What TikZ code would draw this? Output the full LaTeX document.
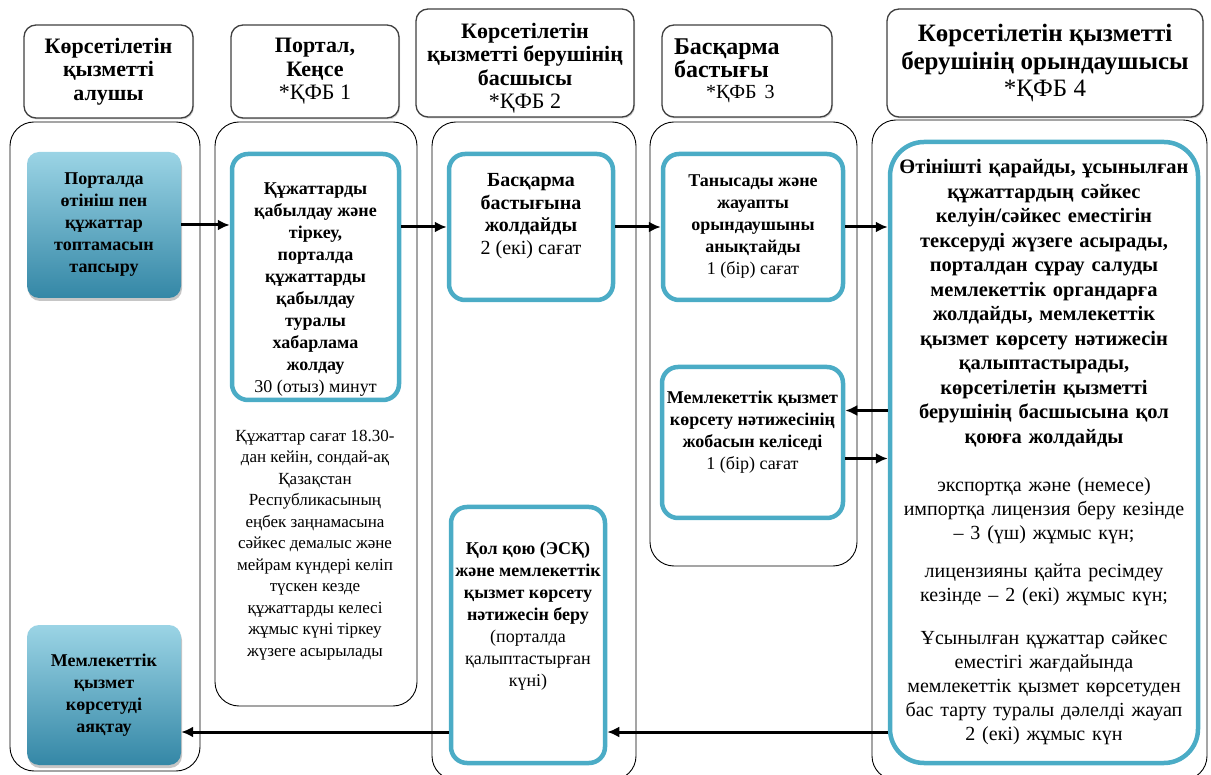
\documentclass[tikz,border=0pt]{standalone}
\usepackage{fontspec}
\setmainfont{Liberation Serif}
\usepackage{tikz}
\usetikzlibrary{arrows.meta,shadows}

\definecolor{stepblue}{HTML}{4BACC6}
\definecolor{termtop}{HTML}{9BD4E5}
\definecolor{termbot}{HTML}{3487A6}
\newcommand\txt{\fontsize{18}{22}\selectfont}
\newcommand\headtxt{\fontsize{22}{23.5}\selectfont}
\newcommand\smalltxt{\fontsize{17}{21.5}\selectfont}
\newcommand\widetxt{\fontsize{20.5}{24.5}\selectfont}

\begin{document}
\begin{tikzpicture}[x=1pt,y=-1pt,
    lanebox/.style={draw=black, line width=0.9pt, rounded corners=24pt},
    headbox/.style={draw=black!75, line width=1.3pt, rounded corners=12pt, fill=white,
      align=center, inner sep=0pt, font=\headtxt,
      drop shadow={shadow xshift=1pt, shadow yshift=-1.5pt, opacity=0.35}},
    stepbox/.style={draw=stepblue, line width=4.5pt, rounded corners=16pt, fill=white,
      align=center, inner sep=0pt, font=\txt},
    termbox/.style={rounded corners=12pt, top color=termtop, bottom color=termbot,
      align=center, inner sep=0pt, font=\txt\bfseries,
      drop shadow={shadow xshift=1pt, shadow yshift=-3pt, opacity=0.45}},
    arr/.style={line width=3pt, -{Latex[length=12pt,width=11pt]}}
  ]
  \useasboundingbox (0,0) rectangle (1211,775);

  % swimlanes
  \draw[lanebox] (10,122) rectangle (200,771);
  \draw[lanebox] (215,122) rectangle (417,706);
  \draw[lanebox] (432,122) rectangle (636,780);
  \draw[lanebox] (650,122) rectangle (857,566);
  \draw[lanebox] (872,120) rectangle (1207,780);

  % headers
  \node[headbox, minimum width=169, minimum height=93] (h1) at (108.5,71.5)
    {\textbf{Көрсетілетін}\\\textbf{қызметті}\\\textbf{алушы}};
  \node[headbox, minimum width=168, minimum height=93] (h2) at (315,71.5)
    {\textbf{Портал,}\\\textbf{Кеңсе}\\*ҚФБ 1};
  \node[headbox, minimum width=218, minimum height=108] (h3) at (525,63)
    {\rule{0pt}{26pt}\textbf{Көрсетілетін}\\\textbf{қызметті берушінің}\\\textbf{басшысы}\\*ҚФБ 2};
  \node[headbox, minimum width=170, minimum height=92, text width=146, align=left, font=\fontsize{24}{21}\selectfont] (h4) at (747,71)
    {\textbf{Басқарма}\\\textbf{бастығы}\\\hspace*{32pt}{\fontsize{20}{21}\selectfont *ҚФБ 3}};
  \node[headbox, minimum width=316, minimum height=108, font=\fontsize{25}{27.5}\selectfont] (h5) at (1045,63)
    {\textbf{Көрсетілетін қызметті}\\\textbf{берушінің орындаушысы}\\*ҚФБ 4};

  % steps
  \node[termbox, minimum width=154, minimum height=146] (start) at (104,225)
    {Порталда\\өтініш пен\\құжаттар\\топтамасын\\тапсыру};
  \node[stepbox, minimum width=167, minimum height=246] (p1) at (315.5,277)
    {\rule{0pt}{36pt}\textbf{Құжаттарды}\\\textbf{қабылдау және}\\\textbf{тіркеу,}\\\textbf{порталда}\\\textbf{құжаттарды}\\\textbf{қабылдау}\\\textbf{туралы}\\\textbf{хабарлама}\\\textbf{жолдау}\\30 (отыз) минут};
  \node[align=center, font=\smalltxt] (note) at (315,545)
    {Құжаттар сағат 18.30-\\дан кейін, сондай-ақ\\Қазақстан\\Республикасының\\еңбек заңнамасына\\сәйкес демалыс және\\мейрам күндері келіп\\түскен кезде\\құжаттарды келесі\\жұмыс күні тіркеу\\жүзеге асырылады};
  \node[stepbox, minimum width=164, minimum height=146, font=\fontsize{20}{22.5}\selectfont] (b1) at (531,227)
    {\textbf{Басқарма}\\\textbf{бастығына}\\\textbf{жолдайды}\\2 (екі) сағат\\[4pt]\mbox{}};
  \node[stepbox, minimum width=180, minimum height=146] (c1) at (753,227)
    {\textbf{Танысады және}\\\textbf{жауапты}\\\textbf{орындаушыны}\\\textbf{анықтайды}\\1 (бір) сағат};
  \node[stepbox, minimum width=181, minimum height=151] (c2) at (752.5,442.5)
    {\textbf{Мемлекеттік қызмет}\\\textbf{көрсету нәтижесінің}\\\textbf{жобасын келіседі}\\1 (бір) сағат\\[3pt]\mbox{}};
  \node[stepbox, minimum width=308, minimum height=621, rounded corners=34pt, text width=304, font=\widetxt] (d1) at (1044,452.5)
    {\textbf{Өтінішті қарайды, ұсынылған}\\\textbf{құжаттардың сәйкес}\\\textbf{келуін/сәйкес еместігін}\\\textbf{тексеруді жүзеге асырады,}\\\textbf{порталдан сұрау салуды}\\\textbf{мемлекеттік органдарға}\\\textbf{жолдайды, мемлекеттік}\\\textbf{қызмет көрсету нәтижесін}\\\textbf{қалыптастырады,}\\\textbf{көрсетілетін қызметті}\\\textbf{берушінің басшысына қол}\\\textbf{қоюға жолдайды}\\[24pt]
     \fontsize{20}{24}\selectfont
     экспортқа және (немесе)\\импортқа лицензия беру кезінде\\– 3 (үш) жұмыс күн;\\[14pt]
     лицензияны қайта ресімдеу\\кезінде – 2 (екі) жұмыс күн;\\[19pt]
     Ұсынылған құжаттар сәйкес\\еместігі жағдайында\\мемлекеттік қызмет көрсетуден\\бас тарту туралы дәлелді жауап\\2 (екі) жұмыс күн};
  \node[stepbox, minimum width=154, minimum height=256] (b2) at (528,635)
    {\textbf{Қол қою (ЭСҚ)}\\\textbf{және мемлекеттік}\\\textbf{қызмет көрсету}\\\textbf{нәтижесін беру}\\(порталда\\қалыптастырған\\күні)\\[20pt]\mbox{}};
  \node[termbox, minimum width=154, minimum height=140] (fin) at (104,695)
    {Мемлекеттік\\қызмет\\көрсетуді\\аяқтау};

  % connectors
  \coordinate (in1) at ([yshift=32pt]c2.east);
  \coordinate (out1) at ([yshift=-16pt]c2.east);
  \coordinate (lowrow) at (0,732);
  \draw[arr] (start.east) -- (start.east -| p1.west);
  \draw[arr] (p1.east |- b1.west) -- (b1.west);
  \draw[arr] (b1.east) -- (c1.west);
  \draw[arr] (c1.east) -- (c1.east -| d1.west);
  \draw[arr] (in1 -| d1.west) -- (in1);
  \draw[arr] (out1) -- (out1 -| d1.west);
  \draw[arr] (d1.west |- lowrow) -- (b2.east |- lowrow);
  \draw[arr] (b2.west |- lowrow) -- (fin.east |- lowrow);
\end{tikzpicture}
\end{document}
